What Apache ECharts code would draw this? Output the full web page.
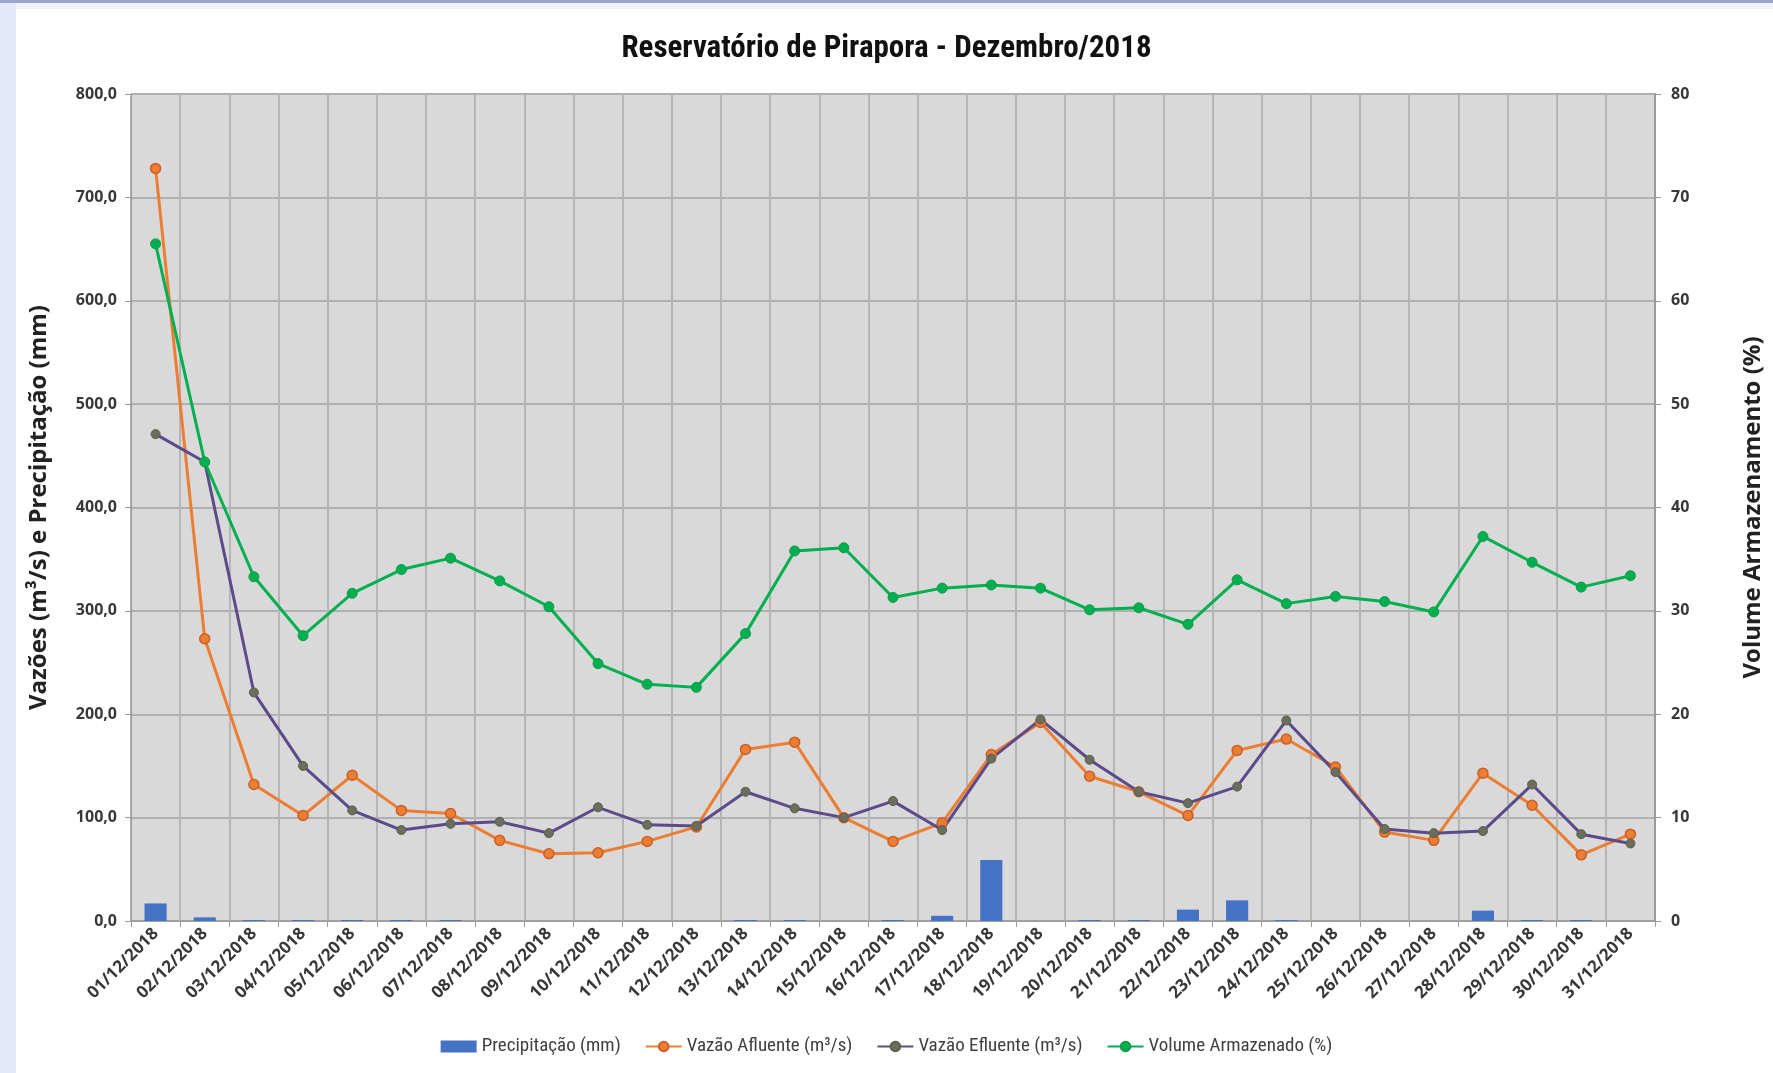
<!DOCTYPE html>
<html><head><meta charset="utf-8">
<script src="https://cdn.jsdelivr.net/npm/echarts@6/dist/echarts.min.js"></script>
<style>html,body{margin:0;padding:0;background:#fff}#c{width:1773px;height:1073px}</style>
</head><body><div id="c"></div>
<script>
const categories = ['01/12/2018','02/12/2018','03/12/2018','04/12/2018','05/12/2018','06/12/2018','07/12/2018','08/12/2018','09/12/2018','10/12/2018','11/12/2018','12/12/2018','13/12/2018','14/12/2018','15/12/2018','16/12/2018','17/12/2018','18/12/2018','19/12/2018','20/12/2018','21/12/2018','22/12/2018','23/12/2018','24/12/2018','25/12/2018','26/12/2018','27/12/2018','28/12/2018','29/12/2018','30/12/2018','31/12/2018'];
const precipitacao = [17, 3.5, 1, 1, 1, 1, 1, 0, 0, 0, 0, 0, 1, 1, 0, 1, 5, 59, 0, 1, 1, 11, 20, 1, 0, 0, 0, 10, 1, 1, 0];
const vazaoAfluente = [728, 273, 132, 102, 141, 107, 104, 78, 65, 66, 77, 91, 166, 173, 100, 77, 95, 161, 192, 140, 125, 102, 165, 176, 149, 86, 78, 143, 112, 64, 84];
const vazaoEfluente = [471, 444, 221, 150, 107, 88, 94, 96, 85, 110, 93, 92, 125, 109, 100, 116, 88, 157, 195, 156, 125, 114, 130, 194, 144, 89, 85, 87, 132, 84, 75];
const volumeArmazenado = [65.5, 44.4, 33.3, 27.6, 31.7, 34.0, 35.1, 32.9, 30.4, 24.9, 22.9, 22.6, 27.8, 35.8, 36.1, 31.3, 32.2, 32.5, 32.2, 30.1, 30.3, 28.7, 33.0, 30.7, 31.4, 30.9, 29.9, 37.2, 34.7, 32.3, 33.4];
const leftTicks = {min: 0, max: 800, interval: 100};
const rightTicks = {min: 0, max: 80, interval: 10};

const chart = echarts.init(document.getElementById('c'));
const axisFont = {fontFamily: 'Open Sans, DejaVu Sans, sans-serif', fontWeight: 'bold', color: '#383838'};
const narrow = "'Liberation Sans Narrow', 'Roboto Condensed', 'Liberation Sans', sans-serif";
chart.setOption({
  backgroundColor: '#ffffff',
  animation: false,
  graphic: [
    {type: 'rect', shape: {x: 0, y: 0, width: 16, height: 1073}, style: {fill: '#e3e8f8'}, z: -10},
    {type: 'rect', shape: {x: 0, y: 0, width: 1773, height: 3}, style: {fill: '#9aa6cc'}, z: -10},
    {type: 'rect', shape: {x: 16, y: 3, width: 1757, height: 6}, style: {fill: '#eef1fb'}, z: -10}
  ],
  title: {
    text: 'Reservatório de Pirapora - Dezembro/2018',
    left: 'center', top: 29,
    textStyle: {fontFamily: narrow, fontWeight: 'bold', fontSize: 31, color: '#111'}
  },
  legend: {
    bottom: 12, left: 'center',
    itemWidth: 36, itemHeight: 12, itemGap: 24,
    textStyle: {fontFamily: narrow, fontSize: 19, color: '#404040'},
    data: [
      {name: 'Precipitação (mm)', icon: 'rect'},
      {name: 'Vazão Afluente (m³/s)'},
      {name: 'Vazão Efluente (m³/s)'},
      {name: 'Volume Armazenado (%)'}
    ]
  },
  grid: {left: 131, right: 114, top: 94, bottom: 152, show: true, backgroundColor: '#d9d9d9', borderWidth: 0},
  xAxis: {
    type: 'category', data: categories, boundaryGap: true,
    axisLine: {lineStyle: {color: '#9a9a9a', width: 1.5}},
    axisTick: {show: true, alignWithLabel: false, length: 6, lineStyle: {color: '#9a9a9a'}},
    splitLine: {show: true, lineStyle: {color: '#b5b5b5', width: 2}},
    axisLabel: Object.assign({rotate: 45, fontSize: 17, margin: 10, interval: 0}, axisFont)
  },
  yAxis: [
    {
      type: 'value', min: leftTicks.min, max: leftTicks.max, interval: leftTicks.interval,
      name: 'Vazões (m³/s) e Precipitação (mm)', nameLocation: 'middle', nameGap: 80, nameRotate: 90,
      nameTextStyle: {fontFamily: 'Open Sans, DejaVu Sans, sans-serif', fontWeight: 'bold', fontSize: 24, color: '#222'},
      axisLine: {show: true, lineStyle: {color: '#9a9a9a'}},
      axisTick: {show: true, length: 6, lineStyle: {color: '#9a9a9a'}},
      splitLine: {show: true, lineStyle: {color: '#b0b0b0', width: 2}},
      axisLabel: Object.assign({fontSize: 16, margin: 14, formatter: v => v.toFixed(1).replace('.', ',')}, axisFont)
    },
    {
      type: 'value', min: rightTicks.min, max: rightTicks.max, interval: rightTicks.interval, position: 'right',
      name: 'Volume Armazenamento (%)', nameLocation: 'middle', nameGap: 86, nameRotate: 90,
      nameTextStyle: {fontFamily: 'Open Sans, DejaVu Sans, sans-serif', fontWeight: 'bold', fontSize: 24, color: '#222'},
      axisLine: {show: true, lineStyle: {color: '#9a9a9a', width: 2}},
      axisTick: {show: true, length: 6, lineStyle: {color: '#9a9a9a'}},
      splitLine: {show: false},
      axisLabel: Object.assign({fontSize: 16, margin: 16}, axisFont)
    }
  ],
  series: [
    {
      name: 'Precipitação (mm)', type: 'bar', yAxisIndex: 0, data: precipitacao,
      barWidth: '45%', itemStyle: {color: '#4472c4'}
    },
    {
      name: 'Vazão Afluente (m³/s)', type: 'line', yAxisIndex: 0, data: vazaoAfluente,
      symbol: 'circle', symbolSize: 10,
      lineStyle: {color: '#ed7d31', width: 3},
      itemStyle: {color: '#ed7d31', borderColor: '#c9602a', borderWidth: 1.5}
    },
    {
      name: 'Vazão Efluente (m³/s)', type: 'line', yAxisIndex: 0, data: vazaoEfluente,
      symbol: 'circle', symbolSize: 9,
      lineStyle: {color: '#5b4b8a', width: 3},
      itemStyle: {color: '#6a6e5c', borderColor: '#5b5e4c', borderWidth: 1}
    },
    {
      name: 'Volume Armazenado (%)', type: 'line', yAxisIndex: 1, data: volumeArmazenado,
      symbol: 'circle', symbolSize: 10,
      lineStyle: {color: '#00b050', width: 3},
      itemStyle: {color: '#00b050', borderColor: '#149a48', borderWidth: 1}
    }
  ]
});
</script>
</body></html>
